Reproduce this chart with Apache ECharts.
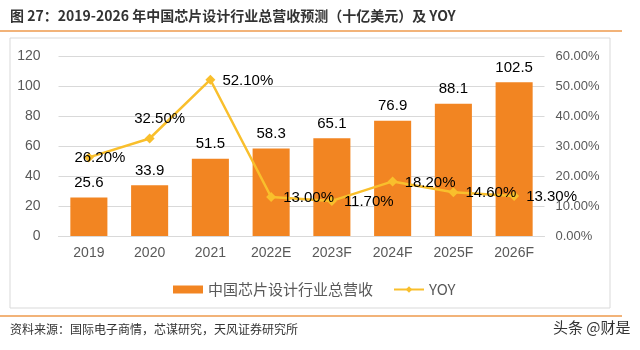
<!DOCTYPE html>
<html>
<head>
<meta charset="utf-8">
<script src="https://cdn.jsdelivr.net/npm/echarts@6/dist/echarts.min.js"></script>
<style>
  html, body { margin: 0; padding: 0; background: #fff; }
  #chart { width: 640px; height: 350px; }
</style>
</head>
<body>
<div id="chart"></div>
<script>
const categories = ["2019", "2020", "2021", "2022E", "2023F", "2024F", "2025F", "2026F"];
const revenue = [25.6, 33.9, 51.5, 58.3, 65.1, 76.9, 88.1, 102.5];
const yoy = [26.2, 32.5, 52.1, 13.0, 11.7, 18.2, 14.6, 13.3];
// label placement of each YOY point, as seen in the picture
const yoyLabelPos = ["inside", "top", "right", "right", "right", "right", "right", "right"];

const font = "Liberation Sans, Arial, sans-serif";
const cjk = "'Noto Sans CJK SC', sans-serif";

const chart = echarts.init(document.getElementById("chart"));

const option = {
  animation: false,
  textStyle: { fontFamily: font },
  graphic: [
    {
      type: "text", left: 10, top: 9,
      style: {
        text: "图 27：2019-2026 年中国芯片设计行业总营收预测（十亿美元）及 YOY",
        font: "bold 14px " + cjk, fill: "#333"
      }
    },
    { type: "line", shape: { x1: 0, y1: 31, x2: 622, y2: 31 }, style: { stroke: "#EE9A4D", lineWidth: 1.5 } },
    { type: "rect", shape: { x: 10, y: 38, width: 600, height: 270 }, style: { fill: "none", stroke: "#D9D9D9", lineWidth: 1 } },
    { type: "line", shape: { x1: 0, y1: 316, x2: 622, y2: 316 }, style: { stroke: "#EE9A4D", lineWidth: 1.5 } },
    {
      type: "text", left: 10, top: 323,
      style: { text: "资料来源：国际电子商情，芯谋研究，天风证券研究所", font: "12px " + cjk, fill: "#333" }
    },
    {
      type: "text", left: 553, top: 320,
      style: { text: "头条 @财是", font: "15px " + cjk, fill: "#333" }
    }
  ],
  legend: {
    top: 277,
    left: 168,
    itemWidth: 30,
    itemHeight: 8,
    itemGap: 20,
    textStyle: { fontFamily: cjk, fontSize: 15, color: "#595959" },
    data: [
      { name: "中国芯片设计行业总营收", icon: "rect" },
      { name: "YOY" }
    ]
  },
  grid: { left: 58.5, right: 95.5, top: 56, height: 180 },
  xAxis: {
    type: "category",
    data: categories,
    axisLine: { lineStyle: { color: "#D9D9D9" } },
    axisTick: { show: false },
    axisLabel: { color: "#595959", fontSize: 14, margin: 10 }
  },
  yAxis: [
    {
      type: "value", min: 0, max: 120, interval: 20,
      axisLine: { show: false }, axisTick: { show: false },
      axisLabel: { color: "#595959", fontSize: 14, margin: 18 },
      splitLine: { lineStyle: { color: "#D9D9D9" } }
    },
    {
      type: "value", min: 0, max: 60, interval: 10, position: "right",
      axisLine: { show: false }, axisTick: { show: false },
      axisLabel: { color: "#595959", fontSize: 13, margin: 11, formatter: v => v.toFixed(2) + "%" },
      splitLine: { show: false }
    }
  ],
  series: [
    {
      name: "中国芯片设计行业总营收",
      type: "bar",
      data: revenue,
      barWidth: "61%",
      itemStyle: { color: "#F28522" },
      label: { show: true, position: "top", distance: 7, color: "#000", fontSize: 15 }
    },
    {
      name: "YOY",
      type: "line",
      yAxisIndex: 1,
      data: yoy.map((v, i) => ({
        value: v,
        label: {
          position: yoyLabelPos[i],
          offset: yoyLabelPos[i] === "inside" ? [11, 0] : yoyLabelPos[i] === "top" ? [10, 0] : [0, 1]
        }
      })),
      symbol: "diamond",
      symbolSize: 10,
      lineStyle: { color: "#F9BF2C", width: 2.5 },
      itemStyle: { color: "#F9BF2C" },
      label: {
        show: true, color: "#000", fontSize: 15, distance: 7,
        formatter: p => p.value.toFixed(2) + "%"
      },
      z: 3
    }
  ]
};

chart.setOption(option);
</script>
</body>
</html>
